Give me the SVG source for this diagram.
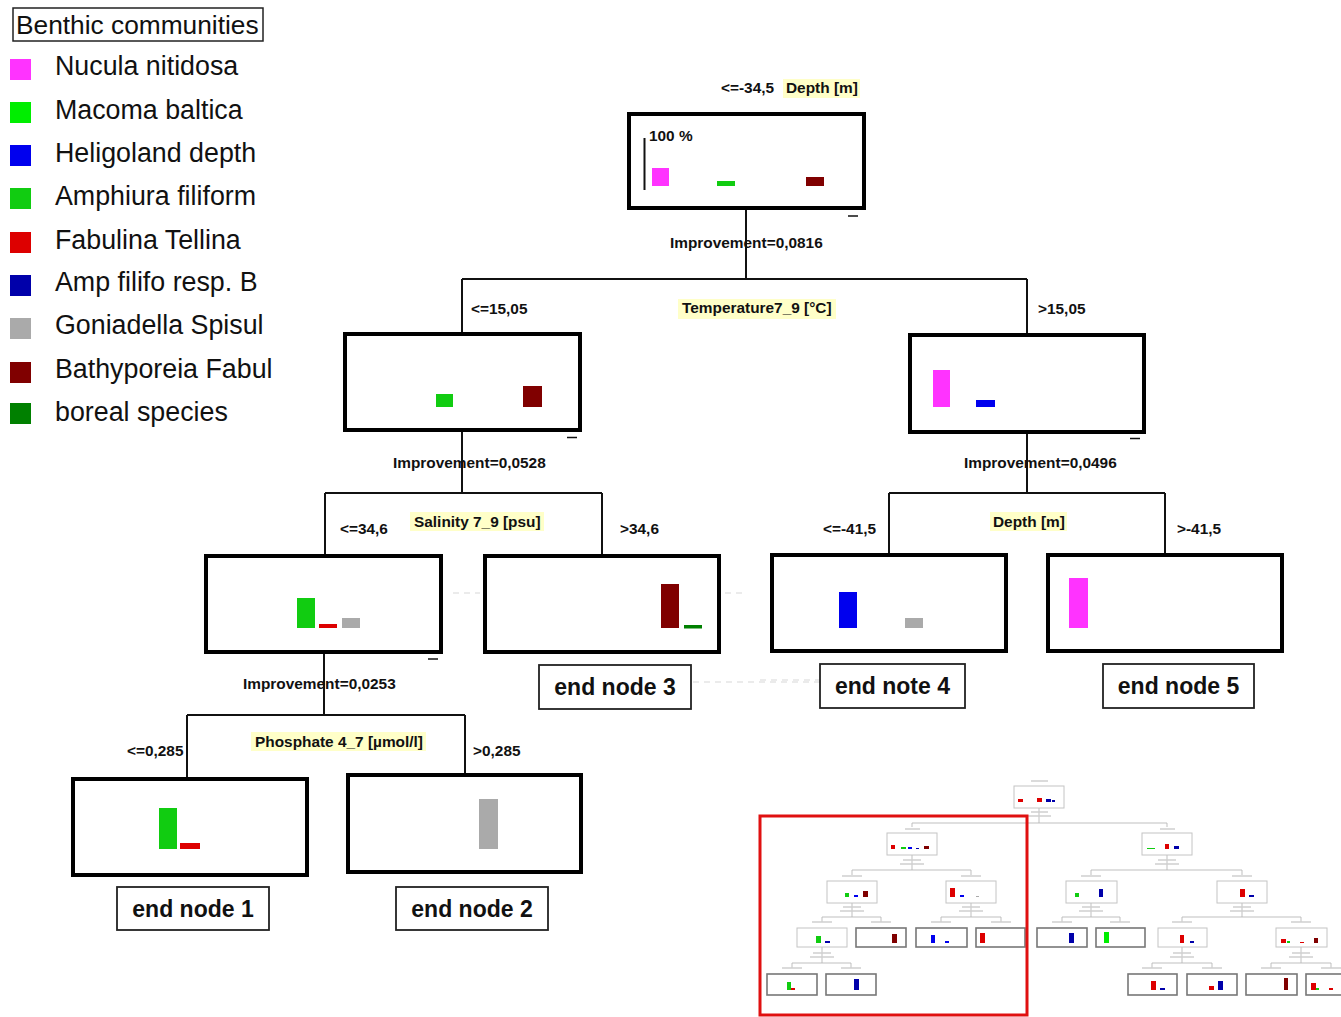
<svg xmlns="http://www.w3.org/2000/svg" width="1341" height="1017" viewBox="0 0 1341 1017">
<style>
text{font-family:"Liberation Sans",Arial,Helvetica,sans-serif;fill:#111}
.leg{font-size:26.8px}
.lab{font-size:15.4px;font-weight:bold}
.end{font-size:23px;font-weight:bold;text-anchor:middle}
.node{fill:#fff;stroke:#000;stroke-width:4}
.ebox{fill:#fff;stroke:#222;stroke-width:1.8}
.hl{fill:#ffffc8}
.con{stroke:#111;stroke-width:2;fill:none}
.dash{stroke:#111;stroke-width:1.5}
.faint{stroke:#d8d8d8;stroke-width:1.2;stroke-dasharray:6 5}
.mn{fill:#fff;stroke:#c4c4c4;stroke-width:1}
.ml{fill:#fff;stroke:#777;stroke-width:1.6}
.mc{stroke:#b8b8b8;stroke-width:0.9;fill:none}
.mt{stroke:#d0d0d0;stroke-width:1.4}
.mag{fill:#ff33ff}.grn{fill:#00ee00}.blu{fill:#0000ee}.amp{fill:#11cc11}.red{fill:#dd0000}
.nav{fill:#0000aa}.gry{fill:#aaaaaa}.drd{fill:#800000}.bor{fill:#008000}
</style>

<g id="legend">
<rect x="13" y="8" width="250" height="33" fill="#fff" stroke="#222" stroke-width="1.5"/>
<text x="16" y="34" style="font-size:26.3px">Benthic communities</text>
<rect class="mag" x="10" y="59" width="21" height="21"/><text class="leg" x="55" y="75">Nucula nitidosa</text>
<rect class="grn" x="10" y="102" width="21" height="21"/><text class="leg" x="55" y="119">Macoma baltica</text>
<rect class="blu" x="10" y="145" width="21" height="21"/><text class="leg" x="55" y="162">Heligoland depth</text>
<rect class="amp" x="10" y="188" width="21" height="21"/><text class="leg" x="55" y="205">Amphiura filiform</text>
<rect class="red" x="10" y="232" width="21" height="21"/><text class="leg" x="55" y="249">Fabulina Tellina</text>
<rect class="nav" x="10" y="275" width="21" height="21"/><text class="leg" x="55" y="291">Amp filifo resp. B</text>
<rect class="gry" x="10" y="318" width="21" height="21"/><text class="leg" x="55" y="334">Goniadella Spisul</text>
<rect class="drd" x="10" y="362" width="21" height="21"/><text class="leg" x="55" y="378">Bathyporeia Fabul</text>
<rect class="bor" x="10" y="403" width="21" height="21"/><text class="leg" x="55" y="421">boreal species</text>
</g>

<g id="connectors">
<path class="con" d="M746 210V279M462 279H1027M462 279V333M1027 279V335"/>
<path class="con" d="M462 432V493M325 493H602M325 493V556M602 493V556"/>
<path class="con" d="M1027 433V493M889 493H1165M889 493V555M1165 493V555"/>
<path class="con" d="M324 654V715M187 715H465M187 715V778M465 715V775"/>
<line class="faint" x1="453" y1="593" x2="480" y2="593"/>
<line class="faint" x1="725" y1="593" x2="742" y2="593"/>
<line class="faint" x1="693" y1="682" x2="820" y2="682"/>
<line class="faint" x1="760" y1="680" x2="819" y2="680"/>
</g>

<g id="split-labels">
<text class="lab" x="721" y="92.5">&lt;=-34,5</text>
<rect class="hl" x="783" y="79" width="77" height="19"/>
<text class="lab" x="786" y="92.5">Depth [m]</text>
<text class="lab" x="670" y="247.5">Improvement=0,0816</text>
<text class="lab" x="471" y="314">&lt;=15,05</text>
<rect class="hl" x="678" y="299" width="158" height="20"/>
<text class="lab" x="682" y="313">Temperature7_9 [°C]</text>
<text class="lab" x="1038" y="314">&gt;15,05</text>
<text class="lab" x="393" y="468">Improvement=0,0528</text>
<text class="lab" x="340" y="534">&lt;=34,6</text>
<rect class="hl" x="410" y="512" width="134" height="19"/>
<text class="lab" x="414" y="527">Salinity 7_9 [psu]</text>
<text class="lab" x="620" y="534">&gt;34,6</text>
<text class="lab" x="964" y="468">Improvement=0,0496</text>
<text class="lab" x="823" y="534">&lt;=-41,5</text>
<rect class="hl" x="990" y="512" width="77" height="19"/>
<text class="lab" x="993" y="527">Depth [m]</text>
<text class="lab" x="1177" y="534">&gt;-41,5</text>
<text class="lab" x="243" y="689">Improvement=0,0253</text>
<text class="lab" x="127" y="756">&lt;=0,285</text>
<rect class="hl" x="251" y="732" width="175" height="19"/>
<text class="lab" x="255" y="747">Phosphate 4_7 [µmol/l]</text>
<text class="lab" x="473" y="756">&gt;0,285</text>
</g>

<g id="node-root">
<rect class="node" x="629" y="114" width="235" height="94"/>
<line x1="644.5" y1="138" x2="644.5" y2="190" stroke="#111" stroke-width="2"/>
<text class="lab" x="649" y="140.5">100 %</text>
<rect class="mag" x="652" y="168" width="17" height="18"/>
<rect class="amp" x="717" y="181" width="18" height="5"/>
<rect class="drd" x="806" y="177" width="18" height="9"/>
<line class="dash" x1="848" y1="216" x2="858" y2="216"/>
</g>

<g id="node-temp-low">
<rect class="node" x="345" y="334" width="235" height="96"/>
<rect class="amp" x="436" y="394" width="17" height="13"/>
<rect class="drd" x="523" y="386" width="19" height="21"/>
<line class="dash" x1="567" y1="437.5" x2="577" y2="437.5"/>
</g>

<g id="node-temp-high">
<rect class="node" x="910" y="335" width="234" height="97"/>
<rect class="mag" x="933" y="370" width="17" height="37"/>
<rect class="blu" x="976" y="400" width="19" height="7"/>
<line class="dash" x1="1130" y1="438.5" x2="1140" y2="438.5"/>
</g>

<g id="node-sal-low">
<rect class="node" x="206" y="556" width="235" height="96"/>
<rect class="amp" x="297" y="598" width="18" height="30"/>
<rect class="red" x="319" y="624" width="18" height="4"/>
<rect class="gry" x="342" y="618" width="18" height="10"/>
<line class="dash" x1="428" y1="659" x2="438" y2="659"/>
</g>

<g id="node-end3">
<rect class="node" x="485" y="556" width="234" height="96"/>
<rect class="drd" x="661" y="584" width="18" height="44"/>
<rect class="bor" x="684" y="625" width="18" height="3.5"/>
<rect class="ebox" x="539" y="665" width="152" height="44"/>
<text class="end" x="615" y="695">end node 3</text>
</g>

<g id="node-end4">
<rect class="node" x="772" y="555" width="234" height="96"/>
<rect class="blu" x="839" y="592" width="18" height="36"/>
<rect class="gry" x="905" y="618" width="18" height="10"/>
<rect class="ebox" x="820" y="664" width="145" height="44"/>
<text class="end" x="892.5" y="694">end note 4</text>
</g>

<g id="node-end5">
<rect class="node" x="1048" y="555" width="234" height="96"/>
<rect class="mag" x="1069" y="578" width="19" height="50"/>
<rect class="ebox" x="1103" y="664" width="151" height="44"/>
<text class="end" x="1178.5" y="694">end node 5</text>
</g>

<g id="node-end1">
<rect class="node" x="73" y="779" width="234" height="96"/>
<rect class="amp" x="159" y="808" width="18" height="41"/>
<rect class="red" x="180" y="843" width="20" height="6"/>
<rect class="ebox" x="117" y="887" width="152" height="43"/>
<text class="end" x="193" y="917">end node 1</text>
</g>

<g id="node-end2">
<rect class="node" x="348" y="775" width="233" height="97"/>
<rect class="gry" x="479" y="799" width="19" height="50"/>
<rect class="ebox" x="396" y="887" width="152" height="43"/>
<text class="end" x="472" y="917">end node 2</text>
</g>

<g id="overview">
<g id="overview-connectors">
<path class="mc" d="M1039 808V823M912 823H1167M912 823V827M1167 823V827"/>
<path class="mc" d="M912 855V870M852 870H971M852 870V875M971 870V875"/>
<path class="mc" d="M1167 855V870M1091 870H1242M1091 870V875M1242 870V875"/>
<path class="mc" d="M852 903V917M822 917H881M822 917V922M881 917V922"/>
<path class="mc" d="M971 903V917M941 917H1001M941 917V922M1001 917V922"/>
<path class="mc" d="M1091 903V917M1062 917H1120M1062 917V922M1120 917V922"/>
<path class="mc" d="M1242 903V917M1182 917H1301M1182 917V922M1301 917V922"/>
<path class="mc" d="M822 947V963M792 963H851M792 963V968M851 963V968"/>
<path class="mc" d="M1182 947V963M1152 963H1212M1152 963V968M1212 963V968"/>
<path class="mc" d="M1301 947V963M1271 963H1331M1271 963V968M1331 963V968"/>
</g>
<g id="overview-labels">
<path class="mt" d="M1031 781H1048M1031 812H1048M1027 816H1051M905 829H920M1160 829H1175M903 860H921M900 864H924M1158 860H1176M1155 864H1179M842 876H862M961 876H981M1081 876H1101M1232 876H1252M843 907H861M840 911H864M962 907H980M959 911H983M1082 907H1100M1079 911H1103M1233 907H1251M1230 911H1254M812 922H832M871 922H891M931 922H951M991 922H1011M1052 922H1072M1110 922H1130M1172 922H1192M1291 922H1311M813 953H831M810 957H834M1173 953H1191M1170 957H1194M1292 953H1310M1289 957H1313M782 968H802M841 968H861M1142 968H1162M1202 968H1222M1261 968H1281M1321 968H1341"/>
</g>
<g id="overview-nodes">
<rect class="mn" x="1014" y="786" width="50" height="22"/>
<rect class="red" x="1018" y="799" width="5" height="3"/><rect class="red" x="1037" y="798" width="5" height="4"/><rect class="nav" x="1046" y="799" width="5" height="3"/><rect class="nav" x="1052" y="800" width="3" height="2"/>
<rect class="mn" x="887" y="833" width="50" height="22"/>
<rect class="red" x="891" y="845" width="4" height="4"/><rect class="amp" x="901" y="847" width="5" height="2"/><rect class="blu" x="908" y="847" width="4" height="2"/><rect class="nav" x="916" y="848" width="3" height="1"/><rect class="drd" x="924" y="846" width="5" height="3"/>
<rect class="mn" x="1142" y="833" width="50" height="22"/>
<rect class="amp" x="1147" y="848" width="8" height="1"/><rect class="red" x="1165" y="844" width="4" height="5"/><rect class="nav" x="1174" y="846" width="5" height="3"/>
<rect class="mn" x="827" y="881" width="50" height="22"/>
<rect class="amp" x="845" y="893" width="4" height="4"/><rect class="blu" x="854" y="895" width="4" height="2"/><rect class="drd" x="863" y="891" width="5" height="6"/>
<rect class="mn" x="946" y="881" width="50" height="22"/>
<rect class="red" x="950" y="888" width="5" height="9"/><rect class="blu" x="960" y="895" width="4" height="2"/><rect class="gry" x="976" y="896" width="3" height="1"/>
<rect class="mn" x="1066" y="881" width="51" height="22"/>
<rect class="amp" x="1075" y="893" width="4" height="4"/><rect class="nav" x="1099" y="889" width="4" height="8"/>
<rect class="mn" x="1217" y="881" width="50" height="22"/>
<rect class="red" x="1240" y="889" width="5" height="8"/><rect class="nav" x="1249" y="895" width="5" height="2"/>
<rect class="mn" x="797" y="928" width="50" height="19"/>
<rect class="amp" x="816" y="936" width="5" height="7"/><rect class="nav" x="825" y="941" width="5" height="2"/>
<rect class="ml" x="856" y="928" width="50" height="19"/>
<rect class="drd" x="892" y="934" width="5" height="9"/>
<rect class="ml" x="916" y="928" width="51" height="19"/>
<rect class="blu" x="931" y="935" width="4" height="8"/><rect class="blu" x="945" y="941" width="4" height="2"/>
<rect class="ml" x="976" y="928" width="49" height="19"/>
<rect class="red" x="980" y="933" width="5" height="10"/>
<rect class="ml" x="1037" y="928" width="50" height="19"/>
<rect class="nav" x="1069" y="933" width="5" height="10"/>
<rect class="ml" x="1096" y="928" width="49" height="19"/>
<rect class="grn" x="1104" y="932" width="5" height="11"/>
<rect class="mn" x="1158" y="928" width="49" height="19"/>
<rect class="red" x="1180" y="935" width="4" height="8"/><rect class="nav" x="1190" y="941" width="4" height="2"/>
<rect class="mn" x="1276" y="928" width="51" height="19"/>
<rect class="red" x="1281" y="939" width="5" height="4"/><rect class="amp" x="1287" y="941" width="3" height="2"/><rect class="red" x="1300" y="942" width="4" height="1"/><rect class="drd" x="1314" y="938" width="4" height="5"/>
<rect class="ml" x="767" y="974" width="50" height="21"/>
<rect class="amp" x="787" y="982" width="4" height="8"/><rect class="red" x="791" y="988" width="4" height="2"/>
<rect class="ml" x="826" y="974" width="50" height="21"/>
<rect class="nav" x="854" y="979" width="5" height="11"/>
<rect class="ml" x="1128" y="974" width="49" height="21"/>
<rect class="red" x="1151" y="981" width="5" height="9"/><rect class="nav" x="1160" y="988" width="5" height="2"/>
<rect class="ml" x="1187" y="974" width="50" height="21"/>
<rect class="red" x="1209" y="986" width="5" height="4"/><rect class="nav" x="1218" y="981" width="5" height="9"/>
<rect class="ml" x="1246" y="974" width="51" height="21"/>
<rect class="drd" x="1284" y="978" width="4" height="12"/>
<rect class="ml" x="1306" y="974" width="40" height="21"/>
<rect class="red" x="1311" y="983" width="5" height="7"/><rect class="amp" x="1316" y="988" width="3" height="2"/><rect class="red" x="1329" y="988" width="4" height="2"/>
</g>
<rect x="760" y="816" width="267" height="199" fill="none" stroke="#e01010" stroke-width="3"/>
</g>
</svg>
